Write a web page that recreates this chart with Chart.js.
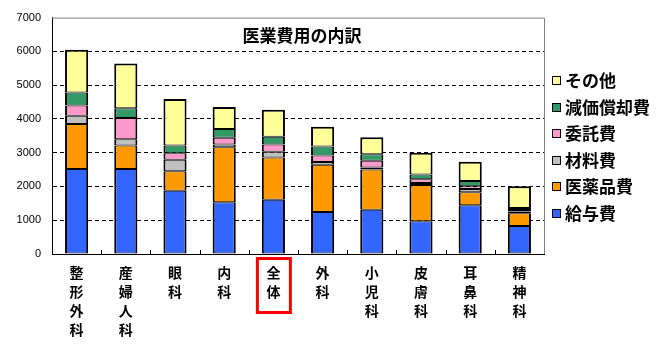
<!DOCTYPE html>
<html>
<head>
<meta charset="utf-8">
<script src="https://cdn.jsdelivr.net/npm/chart.js@4/dist/chart.umd.min.js"></script>
<style>
  html, body { margin: 0; padding: 0; background: #fff; }
  #wrap { width: 658px; height: 359px; position: relative; }
</style>
</head>
<body>
<div id="wrap"><canvas id="c" width="658" height="359"></canvas></div>
<script>
const categories = ['整形外科','産婦人科','眼科','内科','全体','外科','小児科','皮膚科','耳鼻科','精神科'];
const seriesNames = ['給与費','医薬品費','材料費','委託費','減価償却費','その他'];
const salary    = [2520, 2520, 1870, 1530, 1610, 1240, 1310,  970, 1440, 830];
const medicine  = [1330,  690,  580, 1630, 1245, 1405, 1190, 1070,  390, 375];
const material  = [ 245,  185,  340,   85,  175,   80,   65,   60,   95,  50];
const outsource = [ 300,  630,  195,  195,  215,  195,  195,  110,   80,  45];
const deprec    = [ 390,  290,  225,  265,  225,  265,  195,  145,  155,  60];
const other     = [1265, 1325, 1380,  650,  800,  585,  505,  640,  575, 645];
const yTicks = [0, 1000, 2000, 3000, 4000, 5000, 6000, 7000];
const chartTitle = '医業費用の内訳';
const highlighted = '全体';
const colors = ['#3366FF', '#FF9900', '#C0C0C0', '#FF99CC', '#339966', '#FFFF99'];

const seriesValues = [salary, medicine, material, outsource, deprec, other];
const jpFont = "'Noto Sans CJK JP', 'Noto Sans', sans-serif";

const decor = {
  id: 'decor',
  afterDraw(chart) {
    const {ctx, chartArea: a, scales: {x}} = chart;
    ctx.save();
    // top & right frame (gray)
    ctx.strokeStyle = '#808080';
    ctx.lineWidth = 1;
    ctx.beginPath();
    ctx.moveTo(a.left, a.top + 0.5);
    ctx.lineTo(a.right + 0.5, a.top + 0.5);
    ctx.lineTo(a.right + 0.5, a.bottom);
    ctx.stroke();
    // inner tick marks at category boundaries
    ctx.strokeStyle = '#000';
    ctx.beginPath();
    for (let i = 1; i < categories.length; i++) {
      const bx = Math.round((x.getPixelForValue(i - 1) + x.getPixelForValue(i)) / 2) + 0.5;
      ctx.moveTo(bx, a.bottom);
      ctx.lineTo(bx, a.bottom - 4);
    }
    ctx.stroke();
    // title inside plot
    ctx.fillStyle = '#000';
    ctx.font = "bold 17px " + jpFont;
    ctx.textAlign = 'center';
    ctx.textBaseline = 'middle';
    ctx.fillText(chartTitle, (a.left + a.right) / 2 + 4, a.top + 18);
    // legend (reversed order)
    ctx.font = "bold 17px " + jpFont;
    ctx.textAlign = 'left';
    const ds = chart.data.datasets;
    for (let k = 0; k < ds.length; k++) {
      const d = ds[ds.length - 1 - k];
      const cy = a.top + 63 + k * 26.5;
      ctx.fillStyle = d.backgroundColor;
      ctx.fillRect(a.right + 8, Math.round(cy - 4.5), 9, 9);
      ctx.strokeStyle = '#000';
      ctx.lineWidth = 1;
      ctx.strokeRect(a.right + 8.5, Math.round(cy - 4.5) + 0.5, 8, 8);
      ctx.fillStyle = '#000';
      ctx.fillText(d.label, a.right + 21, cy);
    }
    // red highlight box
    const hi = categories.indexOf(highlighted);
    const cx = x.getPixelForValue(hi);
    ctx.strokeStyle = '#FF0000';
    ctx.lineWidth = 3;
    ctx.strokeRect(cx - 16, a.bottom + 4.5, 33, 54);
    ctx.restore();
  }
};

new Chart(document.getElementById('c'), {
  type: 'bar',
  data: {
    labels: categories.map(c => c.split('')),
    datasets: seriesNames.map((n, i) => ({
      label: n,
      data: seriesValues[i],
      backgroundColor: colors[i],
      borderColor: '#000',
      borderWidth: {top: i === seriesNames.length - 1 ? 2 : 1, bottom: 1, left: 2, right: 2},
      borderSkipped: false,
      categoryPercentage: 1,
      barPercentage: 0.47
    }))
  },
  options: {
    responsive: false,
    animation: false,
    devicePixelRatio: 1,
    layout: { padding: { top: 13, right: 114, left: 0, bottom: 0 } },
    plugins: { legend: { display: false }, title: { display: false }, tooltip: { enabled: false } },
    scales: {
      x: {
        stacked: true,
        afterFit: s => { s.height = 105; },
        grid: { display: false, drawTicks: false },
        border: { display: true, color: '#000', width: 1 },
        ticks: {
          color: '#000', autoSkip: false, maxRotation: 0, padding: 9,
          font: { family: jpFont, size: 14, weight: 'bold', lineHeight: 19 / 14 }
        }
      },
      y: {
        stacked: true,
        min: 0, max: 7000,
        afterFit: s => { s.width = 52; },
        afterBuildTicks: s => { s.ticks = yTicks.map(v => ({value: v})); },
        grid: {
          drawTicks: false,
          color: c => (c.tick && (c.tick.value === 0 || c.tick.value === 7000)) ? 'rgba(0,0,0,0)' : '#000',
          lineWidth: 1
        },
        border: { display: true, color: '#000', width: 1, dash: [4, 3] },
        ticks: {
          color: '#000', padding: 11,
          callback: v => String(v),
          font: { family: "'Liberation Sans', Arial, sans-serif", size: 11 }
        }
      }
    }
  },
  plugins: [decor]
});
</script>
</body>
</html>
